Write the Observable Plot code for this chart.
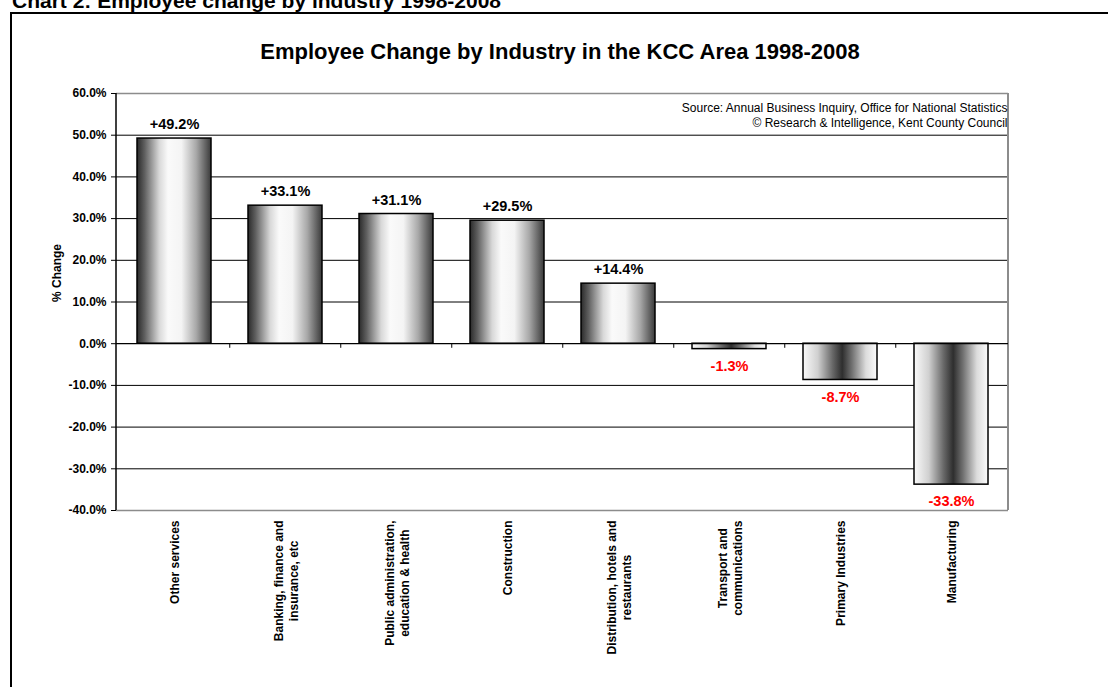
<!DOCTYPE html>
<html>
<head>
<meta charset="utf-8">
<script src="https://cdn.jsdelivr.net/npm/d3@7"></script>
<script src="https://cdn.jsdelivr.net/npm/@observablehq/plot@0.6"></script>
<style>
  body { margin: 0; background: #fff; font-family: Arial, "Liberation Sans", sans-serif; }
  #wrap { position: relative; width: 1108px; height: 687px; overflow: hidden; background: #fff; }
  #chart { position: absolute; left: 0; top: 0; }
  #header { position: absolute; left: 12px; top: -10px; font-size: 21px; line-height: 21px; font-weight: bold; white-space: nowrap; color: #000; }
  #box { position: absolute; left: 10px; top: 12px; width: 1130px; height: 700px; border: 2px solid #000; box-sizing: border-box; }
  #title { position: absolute; left: 0; width: 1120px; top: 41px; text-align: center; font-size: 22px; line-height: 22px; font-weight: bold; color: #000; white-space: nowrap; }
</style>
</head>
<body>
<div id="wrap">
  <div id="chart"></div>
  <div id="box"></div>
  <div id="header">Chart 2: Employee change by industry 1998-2008</div>
  <div id="title">Employee Change by Industry in the KCC Area 1998-2008</div>
</div>
<script>
// ---- data ----
const categories = [
  "Other services",
  "Banking, finance and insurance, etc",
  "Public administration, education & health",
  "Construction",
  "Distribution, hotels and restaurants",
  "Transport and communications",
  "Primary Industries",
  "Manufacturing"
];
const labelLines = [
  ["Other services"],
  ["Banking, finance and", "insurance, etc"],
  ["Public administration,", "education & health"],
  ["Construction"],
  ["Distribution, hotels and", "restaurants"],
  ["Transport and", "communications"],
  ["Primary Industries"],
  ["Manufacturing"]
];
const values = [49.2, 33.1, 31.1, 29.5, 14.4, -1.3, -8.7, -33.8];
const yTicks = [-40, -30, -20, -10, 0, 10, 20, 30, 40, 50, 60];
const sourceLines = [
  "Source: Annual Business Inquiry, Office for National Statistics",
  "\u00A9 Research & Intelligence, Kent County Council"
];
const yLabel = "% Change";

// ---- layout ----
const W = 1108, H = 687;
const mL = 116, mR = 100, mT = 93, mB = 177;
const step = (W - mL - mR) / categories.length;

const data = categories.map((c, i) => ({category: c, value: values[i], lines: labelLines[i]}));

const ctx = document.createElement("canvas").getContext("2d");
ctx.font = "bold 12px Arial, 'Liberation Sans', sans-serif";
const maxW = lines => d3.max(lines, l => ctx.measureText(l).width);

function defs() {
  const d = d3.create("svg:defs");
  const gp = d.append("linearGradient").attr("id", "gPos").attr("x1", 0).attr("x2", 1).attr("y1", 0).attr("y2", 0);
  [[0, "#2a2a2a"], [0.1, "#5e5e5e"], [0.3, "#d8d8d8"], [0.42, "#fafafa"], [0.6, "#f4f4f4"], [0.8, "#a8a8a8"], [1, "#3a3a3a"]]
    .forEach(([o, c]) => gp.append("stop").attr("offset", o).attr("stop-color", c));
  const gn = d.append("linearGradient").attr("id", "gNeg").attr("x1", 0).attr("x2", 1).attr("y1", 0).attr("y2", 0);
  [[0, "#fafafa"], [0.2, "#d0d0d0"], [0.4, "#686868"], [0.53, "#2e2e2e"], [0.66, "#707070"], [0.85, "#dcdcdc"], [1, "#fbfbfb"]]
    .forEach(([o, c]) => gn.append("stop").attr("offset", o).attr("stop-color", c));
  return d.node();
}

function frameLines(index, scales, vals, dims) {
  const {width, height, marginLeft, marginRight, marginTop, marginBottom} = dims;
  const g = d3.create("svg:g");
  g.append("line").attr("x1", width - marginRight).attr("x2", width - marginRight)
    .attr("y1", marginTop).attr("y2", height - marginBottom).attr("stroke", "#8c8c8c").attr("stroke-width", 2);
  g.append("line").attr("x1", marginLeft).attr("x2", marginLeft)
    .attr("y1", marginTop).attr("y2", height - marginBottom).attr("stroke", "#000").attr("stroke-width", 1.5);
  return g.node();
}

const fmt = v => (v > 0 ? "+" : "") + v.toFixed(1) + "%";

const xLabelMarks = data.map(d =>
  Plot.text([d], {
    x: "category",
    text: r => r.lines.join("\n"),
    frameAnchor: "bottom",
    dy: 10 + maxW(d.lines) / 2,
    rotate: -90,
    textAnchor: "middle",
    lineAnchor: "middle",
    lineHeight: 1.25,
    fontSize: 12,
    fontWeight: "bold",
    fill: "#000"
  })
);

const plot = Plot.plot({
  width: W,
  height: H,
  marginLeft: mL,
  marginRight: mR,
  marginTop: mT,
  marginBottom: mB,
  style: {background: "transparent", fontFamily: "Arial, 'Liberation Sans', sans-serif", overflow: "visible"},
  x: {domain: categories, paddingInner: 0.337, paddingOuter: 0.17, axis: null},
  y: {domain: [-40, 60]},
  marks: [
    defs,
    Plot.ruleY(yTicks.filter(t => t !== 0 && t !== 60 && t !== -40), {stroke: "#000", strokeWidth: 1}),
    Plot.ruleY([60, -40], {stroke: "#8c8c8c", strokeWidth: 1.5}),
    frameLines,
    Plot.barY(data.filter(d => d.value >= 0), {x: "category", y: "value", fill: "url(#gPos)", stroke: "#000", strokeWidth: 1.5}),
    Plot.barY(data.filter(d => d.value < 0), {x: "category", y: "value", fill: "url(#gNeg)", stroke: "#000", strokeWidth: 1.5}),
    Plot.ruleY([0], {stroke: "#000", strokeWidth: 1.3}),
    Plot.ruleX(categories.slice(1), {x: d => d, y1: 0, y2: -1.1, dx: -step / 2, stroke: "#000", strokeWidth: 1}),
    Plot.axisY({ticks: yTicks, tickFormat: d => d.toFixed(1) + "%", tickSize: 5, tickPadding: 5, fontSize: 12, fontWeight: "bold", label: null, stroke: "#000"}),
    Plot.text(data.filter(d => d.value >= 0), {x: "category", y: "value", text: d => fmt(d.value), dy: -14, fontSize: 14.5, fontWeight: "bold", fill: "#000"}),
    Plot.text(data.filter(d => d.value < 0), {x: "category", y: "value", text: d => fmt(d.value), dy: 17, fontSize: 14.5, fontWeight: "bold", fill: "#ff0000"}),
    Plot.text([sourceLines.join("\n")], {frameAnchor: "top-right", textAnchor: "end", lineAnchor: "middle", dy: 21.5, dx: -1, lineHeight: 1.25, fontSize: 12, fill: "#000"}),
    Plot.text([yLabel], {frameAnchor: "left", dx: -59, rotate: -90, fontSize: 12, fontWeight: "bold", fill: "#000"}),
    ...xLabelMarks
  ]
});
document.getElementById("chart").appendChild(plot);
</script>
</body>
</html>
